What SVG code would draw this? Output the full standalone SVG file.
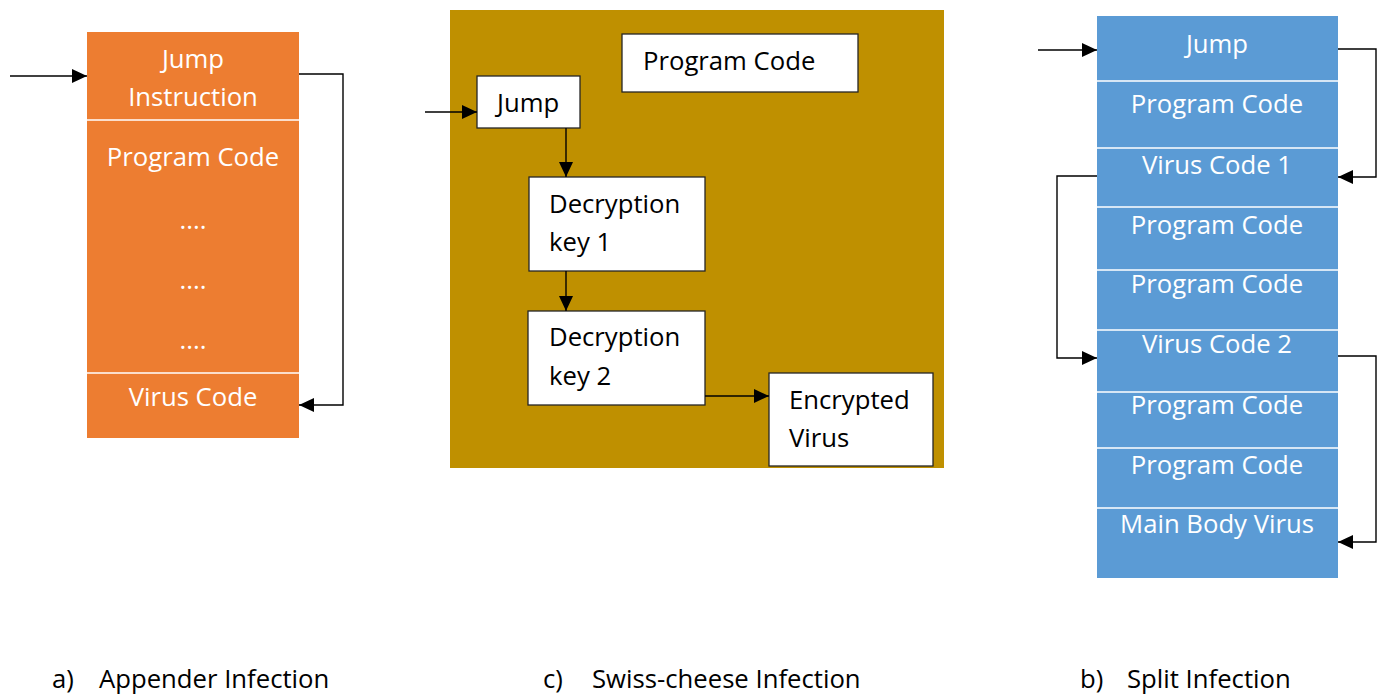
<svg xmlns="http://www.w3.org/2000/svg" width="1379" height="694" viewBox="0 0 1379 694">
<style>
text{font-family:"Open Sans","Noto Sans",sans-serif;font-size:25.7px}
.w{fill:#ffffff}
.k{fill:#000000}
.c{text-anchor:middle}
.div{stroke:#ffffff;stroke-width:1.5}
.box{fill:#ffffff;stroke:#262626;stroke-width:1.3}
.con{fill:none;stroke:#000000;stroke-width:1.4}
</style>
<defs>
<marker id="ah" markerUnits="userSpaceOnUse" markerWidth="15" markerHeight="14" refX="15" refY="7" orient="auto">
<path d="M0,0 L15,7 L0,14 Z" fill="#000000"/>
</marker>
</defs>
<rect width="1379" height="694" fill="#ffffff"/>

<g id="appender">
<rect x="87" y="32" width="212" height="406" fill="#ED7D31"/>
<line class="div" x1="87" y1="120" x2="299" y2="120"/>
<line class="div" x1="87" y1="373" x2="299" y2="373"/>
<text class="w c" x="193" y="68">Jump</text>
<text class="w c" x="193" y="106">Instruction</text>
<text class="w c" x="193" y="166">Program Code</text>
<text class="w c" x="193" y="229">....</text>
<text class="w c" x="193" y="289">....</text>
<text class="w c" x="193" y="349">....</text>
<text class="w c" x="193" y="406">Virus Code</text>
</g>

<g id="swiss">
<rect x="450" y="10" width="494" height="458" fill="#BF9000"/>
<g id="sw-program"><rect class="box" x="622" y="34" width="236" height="58"/><text class="k" x="643" y="70">Program Code</text></g>
<g id="sw-jump"><rect class="box" x="477" y="76" width="103" height="52"/><text class="k" x="497" y="112">Jump</text></g>
<g id="sw-key1"><rect class="box" x="529" y="177" width="176" height="94"/><text class="k" x="549" y="213">Decryption</text><text class="k" x="549" y="251">key 1</text></g>
<g id="sw-key2"><rect class="box" x="528" y="311" width="177" height="94"/><text class="k" x="549" y="346">Decryption</text><text class="k" x="549" y="385">key 2</text></g>
<g id="sw-enc"><rect class="box" x="769" y="373" width="164" height="93"/><text class="k" x="789" y="409">Encrypted</text><text class="k" x="789" y="447">Virus</text></g>
</g>

<g id="split">
<rect x="1097" y="16" width="241" height="562" fill="#5B9BD5"/>
<line class="div" x1="1097" y1="81" x2="1338" y2="81"/>
<line class="div" x1="1097" y1="148" x2="1338" y2="148"/>
<line class="div" x1="1097" y1="207" x2="1338" y2="207"/>
<line class="div" x1="1097" y1="270" x2="1338" y2="270"/>
<line class="div" x1="1097" y1="330" x2="1338" y2="330"/>
<line class="div" x1="1097" y1="392" x2="1338" y2="392"/>
<line class="div" x1="1097" y1="448" x2="1338" y2="448"/>
<line class="div" x1="1097" y1="508" x2="1338" y2="508"/>
<text class="w c" x="1217" y="53">Jump</text>
<text class="w c" x="1217" y="113">Program Code</text>
<text class="w c" x="1217" y="174">Virus Code 1</text>
<text class="w c" x="1217" y="234">Program Code</text>
<text class="w c" x="1217" y="293">Program Code</text>
<text class="w c" x="1217" y="353">Virus Code 2</text>
<text class="w c" x="1217" y="414">Program Code</text>
<text class="w c" x="1217" y="474">Program Code</text>
<text class="w c" x="1217" y="533">Main Body Virus</text>
</g>

<g id="connectors">
<line class="con" x1="10" y1="76" x2="87" y2="76" marker-end="url(#ah)"/>
<polyline class="con" points="299,74 343,74 343,405 299,405" marker-end="url(#ah)"/>
<line class="con" x1="425" y1="112" x2="477" y2="112" marker-end="url(#ah)"/>
<line class="con" x1="566" y1="128" x2="566" y2="177" marker-end="url(#ah)"/>
<line class="con" x1="566" y1="271" x2="566" y2="311" marker-end="url(#ah)"/>
<line class="con" x1="705" y1="396" x2="769" y2="396" marker-end="url(#ah)"/>
<line class="con" x1="1038" y1="50" x2="1097" y2="50" marker-end="url(#ah)"/>
<polyline class="con" points="1338,49 1376,49 1376,177 1338,177" marker-end="url(#ah)"/>
<polyline class="con" points="1097,176 1057,176 1057,358 1097,358" marker-end="url(#ah)"/>
<polyline class="con" points="1338,356 1376,356 1376,542 1338,542" marker-end="url(#ah)"/>
</g>

<g id="captions">
<text class="k" x="52" y="688">a)</text>
<text class="k" x="99" y="688">Appender Infection</text>
<text class="k" x="543" y="688">c)</text>
<text class="k" x="592" y="688">Swiss-cheese Infection</text>
<text class="k" x="1080" y="688">b)</text>
<text class="k" x="1127" y="688">Split Infection</text>
</g>
</svg>
